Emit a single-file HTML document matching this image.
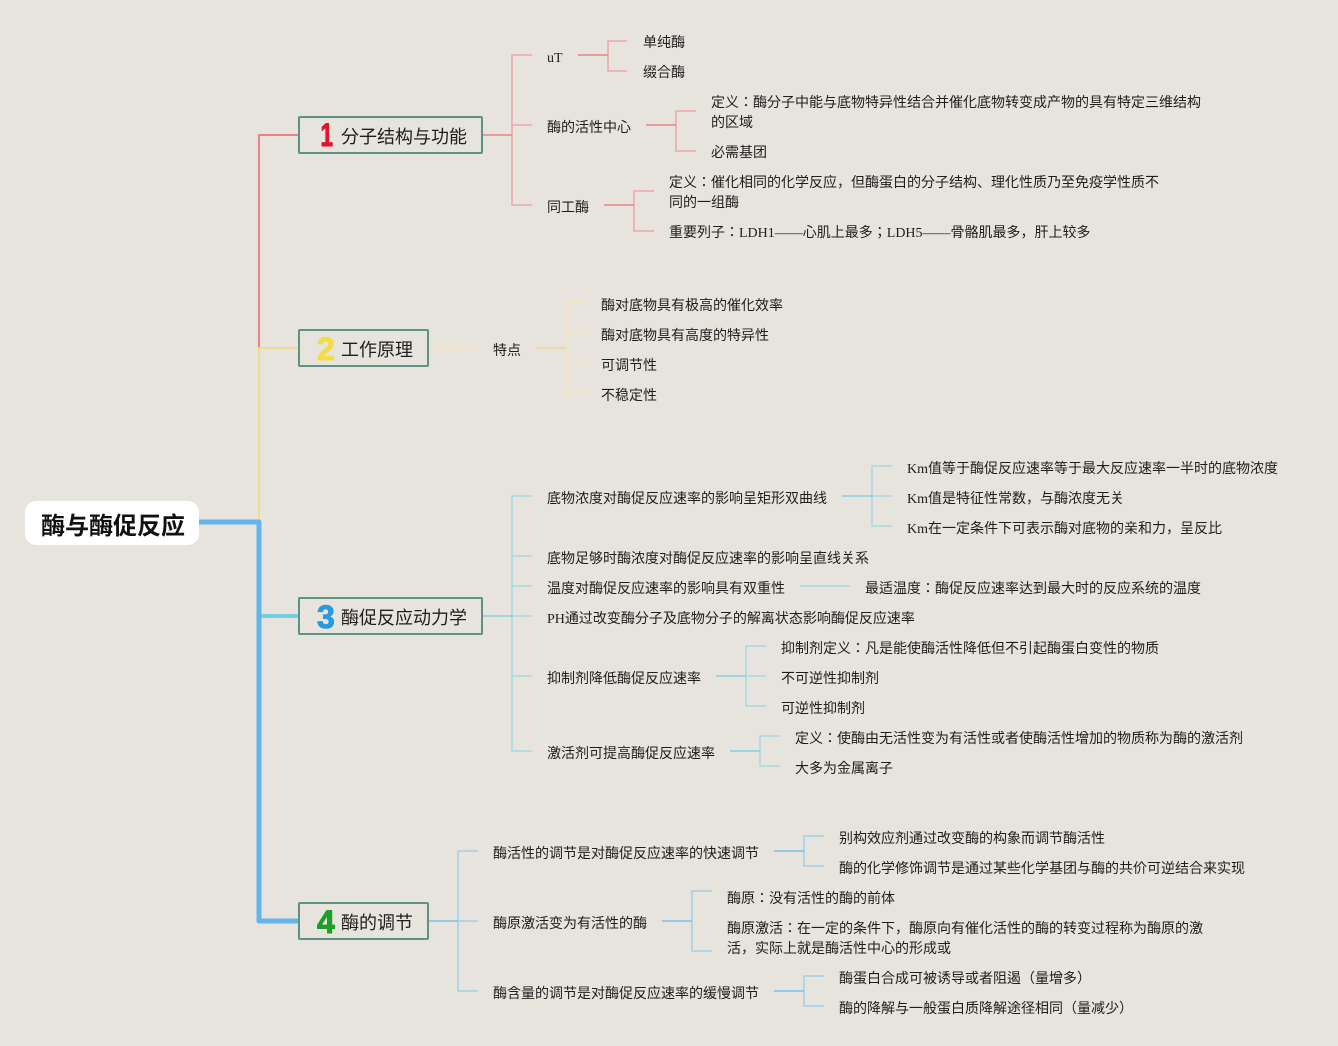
<!DOCTYPE html>
<html><head><meta charset="utf-8"><style>
html,body{margin:0;padding:0;background:#e6e4dc;width:1338px;height:1046px;overflow:hidden}
svg{display:block}
text{font-family:"Liberation Serif","Noto Sans CJK JP",sans-serif;font-size:14px;fill:#1e1e1e}
.m{font-size:18px;fill:#1e1e1e}
.n{font-family:"Liberation Sans",sans-serif;font-size:32px;font-weight:bold;stroke-width:1;stroke-linejoin:round}
path{fill:none;stroke-linejoin:round}
</style></head><body>
<svg width="1338" height="1046" viewBox="0 0 1338 1046" xmlns="http://www.w3.org/2000/svg">
<rect width="1338" height="1046" fill="#e6e4dc"/>

<!-- trunk lines -->
<path d="M299 135H259V348" stroke="#e88287" stroke-width="2"/>
<path d="M299 348H259V522" stroke="#f5d98e" stroke-width="2"/>
<path d="M259 616H299" stroke="#74cfe0" stroke-width="4"/>
<path d="M199 522H259V921H299" stroke="#62b6ec" stroke-width="5"/>

<!-- branch 1 -->
<g stroke="#eda6a8" stroke-width="1.5">
<path d="M532 55H512V205H532M512 125H532"/>
<path d="M627 41H608V71H627"/>
<path d="M696 111H676V151H696"/>
<path d="M654 191H634V231H654"/>
</g>
<g stroke="#e88287" stroke-width="1.5">
<path d="M482 135H512M578 55H608M646 125H676M604 205H634"/>
</g>

<!-- branch 2 -->
<g stroke="#f5e3b4" stroke-width="1.5">
<path d="M586 303H566V393H586M566 333H586M566 363H586"/>
<path d="M431 348H478"/>
</g>
<path d="M536 348H566" stroke="#f2d596" stroke-width="1.5"/>

<!-- branch 3 -->
<g stroke="#a6d8e2" stroke-width="1.5">
<path d="M532 496H512V751H532M512 556H532M512 586H532M512 616H532M512 676H532"/>
<path d="M892 466H872V526H892M872 496H892"/>
<path d="M800 586H850"/>
<path d="M766 646H746V706H766M746 676H766"/>
<path d="M780 736H760V766H780"/>
</g>
<g stroke="#86cfdf" stroke-width="1.5">
<path d="M482 616H512M842 496H872M716 676H746M730 751H760"/>
</g>

<!-- branch 4 -->
<g stroke="#a4cfe9" stroke-width="1.5">
<path d="M478 851H458V991H478M458 921H478"/>
<path d="M824 836H804V866H824"/>
<path d="M712 891H692V951H712"/>
<path d="M824 976H804V1006H824"/>
</g>
<g stroke="#7cc0ea" stroke-width="1.5">
<path d="M428 921H458M774 851H804M662 921H692M774 991H804"/>
</g>

<!-- root -->
<rect x="25" y="501" width="174" height="44" rx="11" fill="#fff"/>

<!-- main nodes -->
<g fill="none" stroke="#5d9284" stroke-width="2">
<rect x="299" y="117" width="183" height="36" rx="1"/>
<rect x="299" y="330" width="129" height="36" rx="1"/>
<rect x="299" y="598" width="183" height="36" rx="1"/>
<rect x="299" y="903" width="129" height="36" rx="1"/>
</g>
<text class="n" transform="translate(320.5,146) scale(.7,1)" x="0" y="0" style="fill:#e0142c;stroke:#e0142c">1</text>
<text class="n" x="317" y="360" style="fill:#f4dc46;stroke:#f4dc46">2</text>
<text class="n" x="317" y="628" style="fill:#2a9ade;stroke:#2a9ade">3</text>
<text class="n" x="317" y="933" style="fill:#1c9e28;stroke:#1c9e28">4</text>

<g transform="translate(0,0.75)">
<text x="41" y="533" style="font-size:24px;font-weight:bold;fill:#111;font-family:'Noto Sans CJK JP',sans-serif">酶与酶促反应</text>
<text class="m" x="341" y="142">分子结构与功能</text>
<text class="m" x="341" y="355">工作原理</text>
<text class="m" x="341" y="623">酶促反应动力学</text>
<text class="m" x="341" y="928">酶的调节</text>

<!-- text branch 1 -->
<text x="547" y="61">uT</text>
<text x="643" y="46">单纯酶</text>
<text x="643" y="76">缀合酶</text>
<text x="547" y="131">酶的活性中心</text>
<text x="711" y="106">定义：酶分子中能与底物特异性结合并催化底物转变成产物的具有特定三维结构</text>
<text x="711" y="126">的区域</text>
<text x="711" y="156">必需基团</text>
<text x="547" y="211">同工酶</text>
<text x="669" y="186">定义：催化相同的化学反应，但酶蛋白的分子结构、理化性质乃至免疫学性质不</text>
<text x="669" y="206">同的一组酶</text>
<text x="669" y="236">重要列子：LDH1——心肌上最多；LDH5——骨骼肌最多，肝上较多</text>

<!-- text branch 2 -->
<text x="493" y="354">特点</text>
<text x="601" y="309">酶对底物具有极高的催化效率</text>
<text x="601" y="339">酶对底物具有高度的特异性</text>
<text x="601" y="369">可调节性</text>
<text x="601" y="399">不稳定性</text>

<!-- text branch 3 -->
<text x="547" y="502">底物浓度对酶促反应速率的影响呈矩形双曲线</text>
<text x="907" y="472">Km值等于酶促反应速率等于最大反应速率一半时的底物浓度</text>
<text x="907" y="502">Km值是特征性常数，与酶浓度无关</text>
<text x="907" y="532">Km在一定条件下可表示酶对底物的亲和力，呈反比</text>
<text x="547" y="562">底物足够时酶浓度对酶促反应速率的影响呈直线关系</text>
<text x="547" y="592">温度对酶促反应速率的影响具有双重性</text>
<text x="865" y="592">最适温度：酶促反应速率达到最大时的反应系统的温度</text>
<text x="547" y="622">PH通过改变酶分子及底物分子的解离状态影响酶促反应速率</text>
<text x="547" y="682">抑制剂降低酶促反应速率</text>
<text x="781" y="652">抑制剂定义：凡是能使酶活性降低但不引起酶蛋白变性的物质</text>
<text x="781" y="682">不可逆性抑制剂</text>
<text x="781" y="712">可逆性抑制剂</text>
<text x="547" y="757">激活剂可提高酶促反应速率</text>
<text x="795" y="742">定义：使酶由无活性变为有活性或者使酶活性增加的物质称为酶的激活剂</text>
<text x="795" y="772">大多为金属离子</text>

<!-- text branch 4 -->
<text x="493" y="857">酶活性的调节是对酶促反应速率的快速调节</text>
<text x="839" y="842">别构效应剂通过改变酶的构象而调节酶活性</text>
<text x="839" y="872">酶的化学修饰调节是通过某些化学基团与酶的共价可逆结合来实现</text>
<text x="493" y="927">酶原激活变为有活性的酶</text>
<text x="727" y="902">酶原：没有活性的酶的前体</text>
<text x="727" y="932">酶原激活：在一定的条件下，酶原向有催化活性的酶的转变过程称为酶原的激</text>
<text x="727" y="952">活，实际上就是酶活性中心的形成或</text>
<text x="493" y="997">酶含量的调节是对酶促反应速率的缓慢调节</text>
<text x="839" y="982">酶蛋白合成可被诱导或者阻遏（量增多）</text>
<text x="839" y="1012">酶的降解与一般蛋白质降解途径相同（量减少）</text>
</g>
</svg>
</body></html>
